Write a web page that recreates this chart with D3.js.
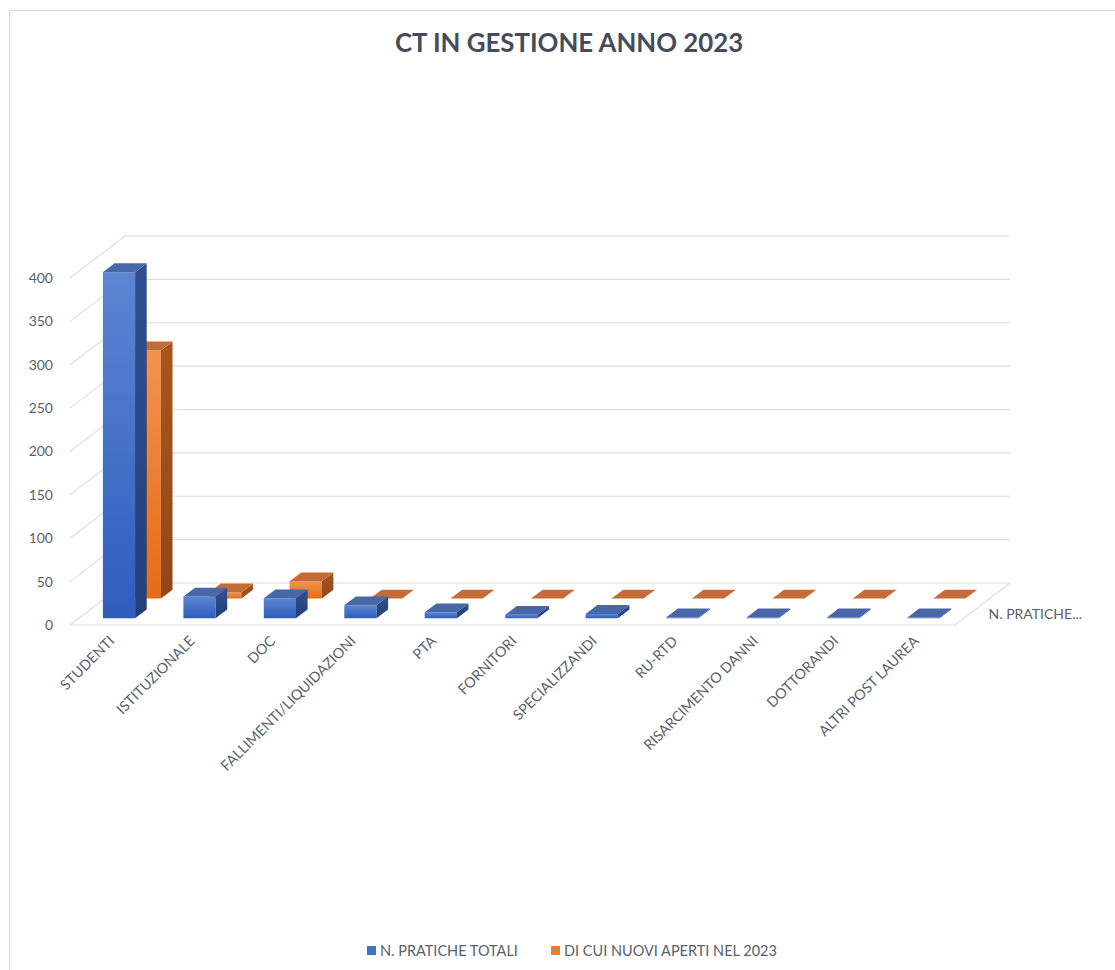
<!DOCTYPE html>
<html>
<head>
<meta charset="utf-8">
<script src="https://cdn.jsdelivr.net/npm/d3@7"></script>
<style>
  body { margin: 0; background: #fff; }
  svg { display: block; }
</style>
</head>
<body>
<svg id="chart" width="1115" height="970"></svg>
<script>
// data
var categories = ["STUDENTI", "ISTITUZIONALE", "DOC", "FALLIMENTI/LIQUIDAZIONI", "PTA", "FORNITORI",
    "SPECIALIZZANDI", "RU-RTD", "RISARCIMENTO DANNI", "DOTTORANDI", "ALTRI POST LAUREA"];
var totali = [399, 25, 23, 15, 7, 4, 5, 1, 1, 1, 1];
var nuovi = [286, 7, 20, 0, 0, 0, 0, 0, 0, 0, 0];
var seriesNames = ["N. PRATICHE TOTALI", "DI CUI NUOVI APERTI NEL 2023"];
var yTicks = [0, 50, 100, 150, 200, 250, 300, 350, 400];

var svg = d3.select("#chart");
var DX = 55, DY = 42;      // how far the back wall is pushed up-right
var textCol = "#595f6b";

var x = d3.scaleBand().domain(categories).range([70, 955]).paddingInner(0.6).paddingOuter(0.3);
var y = d3.scaleLinear().domain([0, 400]).range([625, 278]);
var z = d3.scaleBand().domain(seriesNames).range([0, 1]).paddingInner(0.55).paddingOuter(0.34);

function P(px, v, d) {
    return [px + d * DX, y(v) - d * DY];
}
function poly(pts) {
    return "M" + pts.map(function(p) { return p[0].toFixed(1) + "," + p[1].toFixed(1); }).join("L") + "Z";
}

// chart frame
svg.append("rect").attr("x", 9.5).attr("y", 10.5).attr("width", 1120).attr("height", 980)
    .attr("fill", "none").attr("stroke", "#d9d9d9");

// title
svg.append("text").attr("x", 569).attr("y", 52).attr("text-anchor", "middle")
    .attr("font-family", "Lato, 'Open Sans', sans-serif").attr("font-weight", "bold")
    .attr("font-size", 25.8).attr("fill", "#444c5a").text("CT IN GESTIONE ANNO 2023");

// gradients
var defs = svg.append("defs");
function grad(id, c1, c2) {
    var g = defs.append("linearGradient").attr("id", id).attr("x1", 0).attr("y1", 0).attr("x2", 0).attr("y2", 1);
    g.append("stop").attr("offset", "0%").attr("stop-color", c1);
    g.append("stop").attr("offset", "100%").attr("stop-color", c2);
}
grad("bFront", "#5c85d2", "#2e5dbd");
grad("bSide", "#2f4f8f", "#22407a");
grad("oFront", "#f3924f", "#e56c14");
grad("oSide", "#a9561f", "#924615");

var colors = {
    "N. PRATICHE TOTALI": { front: "url(#bFront)", side: "url(#bSide)", top: "#4767a6", legend: "#4472c4" },
    "DI CUI NUOVI APERTI NEL 2023": { front: "url(#oFront)", side: "url(#oSide)", top: "#c46b37", legend: "#ed7d31" }
};

// gridlines: back wall + left wall + floor
var grid = svg.append("g").attr("stroke", "#dcdee3").attr("stroke-width", 1.2).attr("fill", "none");
var xL = x.range()[0], xR = x.range()[1];
yTicks.forEach(function(t) {
    grid.append("path").attr("d", "M" + P(xL, t, 0) + "L" + P(xL, t, 1) + "L" + P(xR, t, 1));
});
grid.append("path").attr("d", "M" + P(xL, 0, 0) + "L" + P(xR, 0, 0) + "L" + P(xR, 0, 1));

// y labels
svg.append("g").selectAll("text").data(yTicks).join("text")
    .attr("x", 53).attr("y", function(d) { return y(d); }).attr("dy", "0.35em")
    .attr("text-anchor", "end").attr("font-family", "Lato, sans-serif").attr("font-size", 14)
    .attr("fill", textCol).text(function(d) { return d; });

// bars: back row first
var rows = [
    { name: seriesNames[1], values: nuovi },
    { name: seriesNames[0], values: totali }
];
rows.forEach(function(row) {
    var d0 = z(row.name), dd = z.bandwidth(), c = colors[row.name];
    var g = svg.append("g");
    categories.forEach(function(cat, i) {
        var v = row.values[i], x0 = x(cat), x1 = x0 + x.bandwidth();
        g.append("path").attr("fill", c.front)
            .attr("d", poly([P(x0, 0, d0), P(x1, 0, d0), P(x1, v, d0), P(x0, v, d0)]));
        g.append("path").attr("fill", c.side)
            .attr("d", poly([P(x1, 0, d0), P(x1, 0, d0 + dd), P(x1, v, d0 + dd), P(x1, v, d0)]));
        g.append("path").attr("fill", c.top)
            .attr("d", poly([P(x0, v, d0), P(x1, v, d0), P(x1, v, d0 + dd), P(x0, v, d0 + dd)]));
    });
});

// category labels
svg.append("g").selectAll("text").data(categories).join("text")
    .attr("transform", function(d) {
        return "translate(" + (x(d) + x.bandwidth() / 2 + 5) + "," + 642 + ") rotate(-45)";
    })
    .attr("text-anchor", "end").attr("font-family", "Lato, sans-serif").attr("font-size", 14.3)
    .attr("fill", textCol).text(function(d) { return d; });

// depth axis label
var dl = P(xR, 0, z(seriesNames[0]) + z.bandwidth() / 2);
svg.append("text").attr("x", dl[0] + 19).attr("y", dl[1]).attr("dy", "0.35em")
    .attr("font-family", "Lato, sans-serif").attr("font-size", 14).attr("fill", textCol)
    .text("N. PRATICHE...");

// legend
var lg = svg.append("g").attr("transform", "translate(0,951)");
var legX = [367, 551];
seriesNames.forEach(function(s, i) {
    lg.append("rect").attr("x", legX[i]).attr("y", -5).attr("width", 9).attr("height", 9)
        .attr("fill", colors[s].legend);
    lg.append("text").attr("x", legX[i] + 13).attr("y", 0).attr("dy", "0.35em")
        .attr("font-family", "Lato, sans-serif").attr("font-size", 14.5).attr("fill", textCol).text(s);
});
</script>
</body>
</html>
